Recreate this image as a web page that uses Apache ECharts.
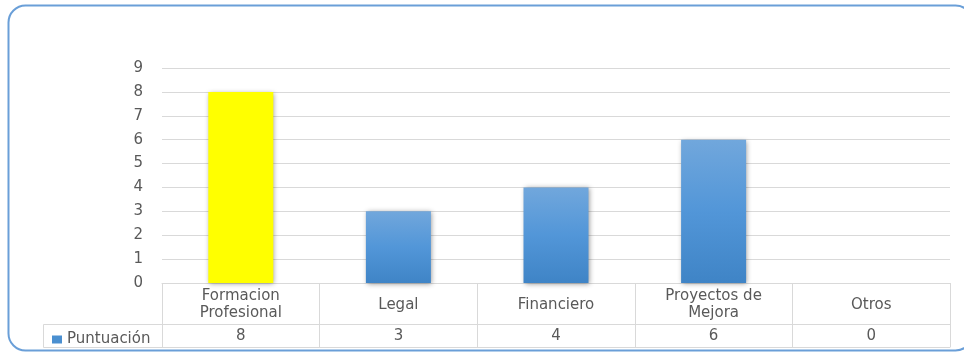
<!DOCTYPE html>
<html>
<head>
<meta charset="utf-8">
<script src="https://cdn.jsdelivr.net/npm/echarts@6/dist/echarts.min.js"></script>
<style>
  html, body { margin: 0; padding: 0; background: #ffffff; }
  #chart { width: 964px; height: 356px; }
</style>
</head>
<body>
<div id="chart"></div>
<script>
// Category names (header row of the data table) and scores
const categories = ['Formacion\nProfesional', 'Legal', 'Financiero', 'Proyectos de\nMejora', 'Otros'];
const puntuacion = [8, 3, 4, 6, 0];
const yTicks = [0, 1, 2, 3, 4, 5, 6, 7, 8, 9];
const seriesName = 'Puntuación';
const highlightIndex = 0; // bar drawn in yellow

const textColor = '#595959';
const lineColor = '#d9d9d9';
const fontFamily = 'DejaVu Sans';
const fontSize = 15;

const blueFill = new echarts.graphic.LinearGradient(0, 0, 0, 1, [
  { offset: 0, color: '#71a7dc' },
  { offset: 0.5, color: '#5296d8' },
  { offset: 1, color: '#3f84c6' }
]);

const barData = puntuacion.map((v, i) => (
  i === highlightIndex
    ? { value: v, itemStyle: { color: '#ffff00' } }
    : { value: v }
));

const chart = echarts.init(document.getElementById('chart'), null, { renderer: 'canvas' });

chart.setOption({
  animation: false,
  backgroundColor: '#ffffff',
  textStyle: { fontFamily: fontFamily },
  grid: { left: 162, right: 14, top: 68, bottom: 73, containLabel: false },
  legend: {
    left: 47, top: 327,
    icon: 'rect', itemWidth: 10, itemHeight: 8, itemGap: 6,
    textStyle: { color: textColor, fontSize: fontSize, fontFamily: fontFamily },
    data: [{ name: seriesName, itemStyle: { color: '#4a8fd0' } }]
  },
  xAxis: [
    {
      // header row: category names, ticks form the table's vertical rules
      type: 'category',
      data: categories,
      position: 'bottom',
      axisLine: { show: true, lineStyle: { color: lineColor, width: 1 } },
      axisTick: { show: true, length: 64, lineStyle: { color: lineColor } },
      axisLabel: {
        color: textColor, fontSize: fontSize, fontFamily: fontFamily,
        margin: 22, verticalAlign: 'middle', lineHeight: 17, interval: 0
      }
    },
    {
      // value row of the data table
      type: 'category',
      data: puntuacion.map(String),
      position: 'bottom',
      offset: 41,
      axisLine: { show: true, lineStyle: { color: lineColor, width: 1 } },
      axisTick: { show: false },
      axisLabel: {
        color: textColor, fontSize: fontSize, fontFamily: fontFamily,
        margin: 12.5, verticalAlign: 'middle', interval: 0
      }
    },
    {
      // closing rule under the table
      type: 'category',
      data: categories,
      position: 'bottom',
      offset: 64,
      axisLine: { show: true, lineStyle: { color: lineColor, width: 1 } },
      axisTick: { show: false },
      axisLabel: { show: false }
    }
  ],
  yAxis: {
    type: 'value',
    min: yTicks[0],
    max: yTicks[yTicks.length - 1],
    interval: 1,
    axisLine: { show: false },
    axisTick: { show: false },
    axisLabel: {
      color: textColor, fontSize: fontSize, fontFamily: fontFamily, margin: 19,
      formatter: v => (yTicks.includes(v) ? String(v) : '')
    },
    splitLine: { show: true, lineStyle: { color: lineColor, width: 1 } }
  },
  series: [{
    name: seriesName,
    type: 'bar',
    xAxisIndex: 0,
    data: barData,
    barWidth: 65,
    itemStyle: {
      color: blueFill,
      shadowBlur: 5,
      shadowColor: 'rgba(0,0,0,0.4)',
      shadowOffsetX: 1,
      shadowOffsetY: 1
    }
  }],
  graphic: [
    {
      // legend cell on the left of the value row
      type: 'polyline',
      silent: true,
      shape: { points: [[162, 324.5], [43.5, 324.5], [43.5, 347.5], [162, 347.5]] },
      style: { stroke: lineColor, lineWidth: 1, fill: null }
    },
    {
      // rounded chart frame
      type: 'rect',
      silent: true,
      shape: { x: 8.5, y: 5.5, width: 964, height: 345, r: 17 },
      style: { stroke: '#6a9fd8', lineWidth: 2, fill: null }
    }
  ]
});
</script>
</body>
</html>
